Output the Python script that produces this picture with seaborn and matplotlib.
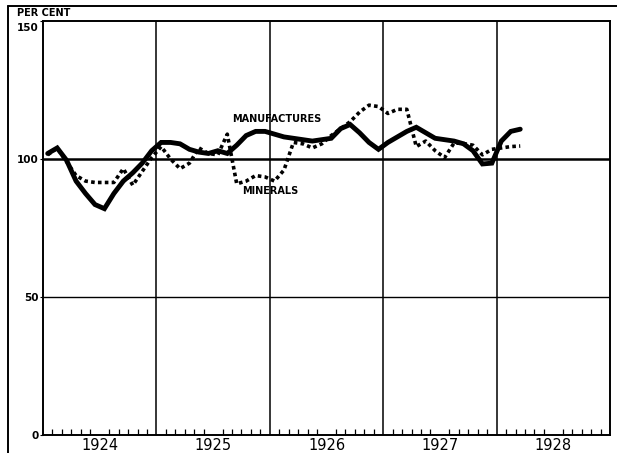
import numpy as np
import pandas as pd
import seaborn as sns
import matplotlib.pyplot as plt
from matplotlib.lines import Line2D
from matplotlib.transforms import ScaledTranslation

# ---------------- data (monthly, Jan 1924 - Mar 1928) ----------------
start_year = 1924
manufactures = [
    102, 104, 99.5, 92, 87.5, 83.5, 82, 87.5, 92, 95, 98.5, 103,        # 1924
    106, 106, 105.5, 103.5, 102.5, 102, 103, 102, 105, 108.5, 110, 110,  # 1925
    109, 108, 107.5, 107, 106.5, 107, 107.5, 111, 112.5, 109.5, 106, 103.5,  # 1926
    106, 108, 110, 111.5, 109.5, 107.5, 107, 106.5, 105.5, 103, 98.2, 98.5,  # 1927
    106.5, 110, 110.8,                                                   # 1928
]
minerals = [
    101.5, 104, 99, 94, 92, 91.5, 91.5, 91.5, 96.5, 90.5, 95.5, 100.5,   # 1924
    104.5, 100, 96.5, 98.5, 104, 102, 101.5, 109, 91, 92, 94, 93.5,      # 1925
    92, 96, 106, 105.5, 104, 105.5, 108.5, 111, 113.5, 117, 119.5, 119,  # 1926
    116.5, 118, 118, 104.5, 106.5, 103, 100.5, 105.8, 105.6, 105, 101.5, 103.5,  # 1927
    104, 104.5, 104.7,                                                   # 1928
]
year_labels = ["1924", "1925", "1926", "1927", "1928"]
y_ticks = [0, 50, 100, 150]
y_tick_labels = ["0", "50", "100", "150"]

n = len(manufactures)
month_idx = np.arange(n)
t = start_year + (month_idx + 0.5) / 12.0
df = pd.DataFrame({"t": t, "manufactures": manufactures, "minerals": minerals})

# ---------------- figure ----------------
sns.set_theme(style="white")
plt.rcParams["font.family"] = ["DejaVu Sans"]

W, H = 617, 453
fig = plt.figure(figsize=(W / 100, H / 100), dpi=100)
fig.patch.set_facecolor("white")
ax = fig.add_axes([43 / W, 18 / H, (610 - 43) / W, (435 - 21) / H])
ax.set_facecolor("white")

# grid / reference lines
for yr in range(start_year + 1, start_year + len(year_labels)):
    ax.axvline(yr, color="black", lw=1.1, zorder=1)
ax.axhline(100, color="black", lw=1.8, zorder=1)
ax.axhline(50, color="black", lw=1.0, zorder=1)

sns.lineplot(data=df, x="t", y="manufactures", ax=ax, color="black",
             lw=3.5, solid_joinstyle="miter", zorder=3)
sns.lineplot(data=df, x="t", y="minerals", ax=ax, color="black",
             lw=2.6, linestyle=(0, (1.0, 0.9)), dash_capstyle="butt", zorder=4)

ax.set_xlim(start_year, start_year + len(year_labels))
ax.set_ylim(0, 150)

for s in ax.spines.values():
    s.set_color("black")
    s.set_linewidth(1.4)

# y ticks
ax.set_yticks(y_ticks)
ax.set_yticklabels(y_tick_labels, fontsize=7.5, fontweight="bold")
ax.tick_params(axis="y", which="major", length=2, width=0.8, pad=1,
               color="black", labelcolor="black", direction="out", left=True)
# nudge the top label (150) slightly down, as in the reference
top_lbl = ax.get_yticklabels()[-1]
top_lbl.set_transform(top_lbl.get_transform() + ScaledTranslation(0, -4 / 72, fig.dpi_scale_trans))

# x: year labels centered, monthly minor ticks inward
ax.set_xticks([start_year + i + 0.5 for i in range(len(year_labels))])
ax.set_xticklabels(year_labels, fontsize=10.5)
ax.tick_params(axis="x", which="major", length=0, pad=2, labelcolor="black")
ax.set_xticks([start_year + m / 12 for m in range(0, 12 * len(year_labels) + 1) if m % 12 != 0],
              minor=True)
ax.tick_params(axis="x", which="minor", length=4, width=0.9, direction="in",
               color="black", bottom=True)
ax.set_xlabel("")
ax.set_ylabel("")
ax.grid(False)

# annotations
ax.text(1925.667, 114.5, "MANUFACTURES", fontsize=7, fontweight="bold",
        ha="left", va="center", color="black")
ax.text(1925.755, 88.5, "MINERALS", fontsize=7, fontweight="bold",
        ha="left", va="center", color="black")
fig.text(17 / W, 1 - 12.5 / H, "PER CENT", fontsize=7, fontweight="bold",
         ha="left", va="center", color="black")

# outer frame (cropped at right / bottom)
fig.add_artist(Line2D([8 / W, 8 / W], [0, 1 - 6 / H], transform=fig.transFigure,
                      color="black", lw=1.4))
fig.add_artist(Line2D([8 / W, 1], [1 - 6 / H, 1 - 6 / H], transform=fig.transFigure,
                      color="black", lw=1.4))

fig.savefig("out.png", dpi=100, facecolor="white")
